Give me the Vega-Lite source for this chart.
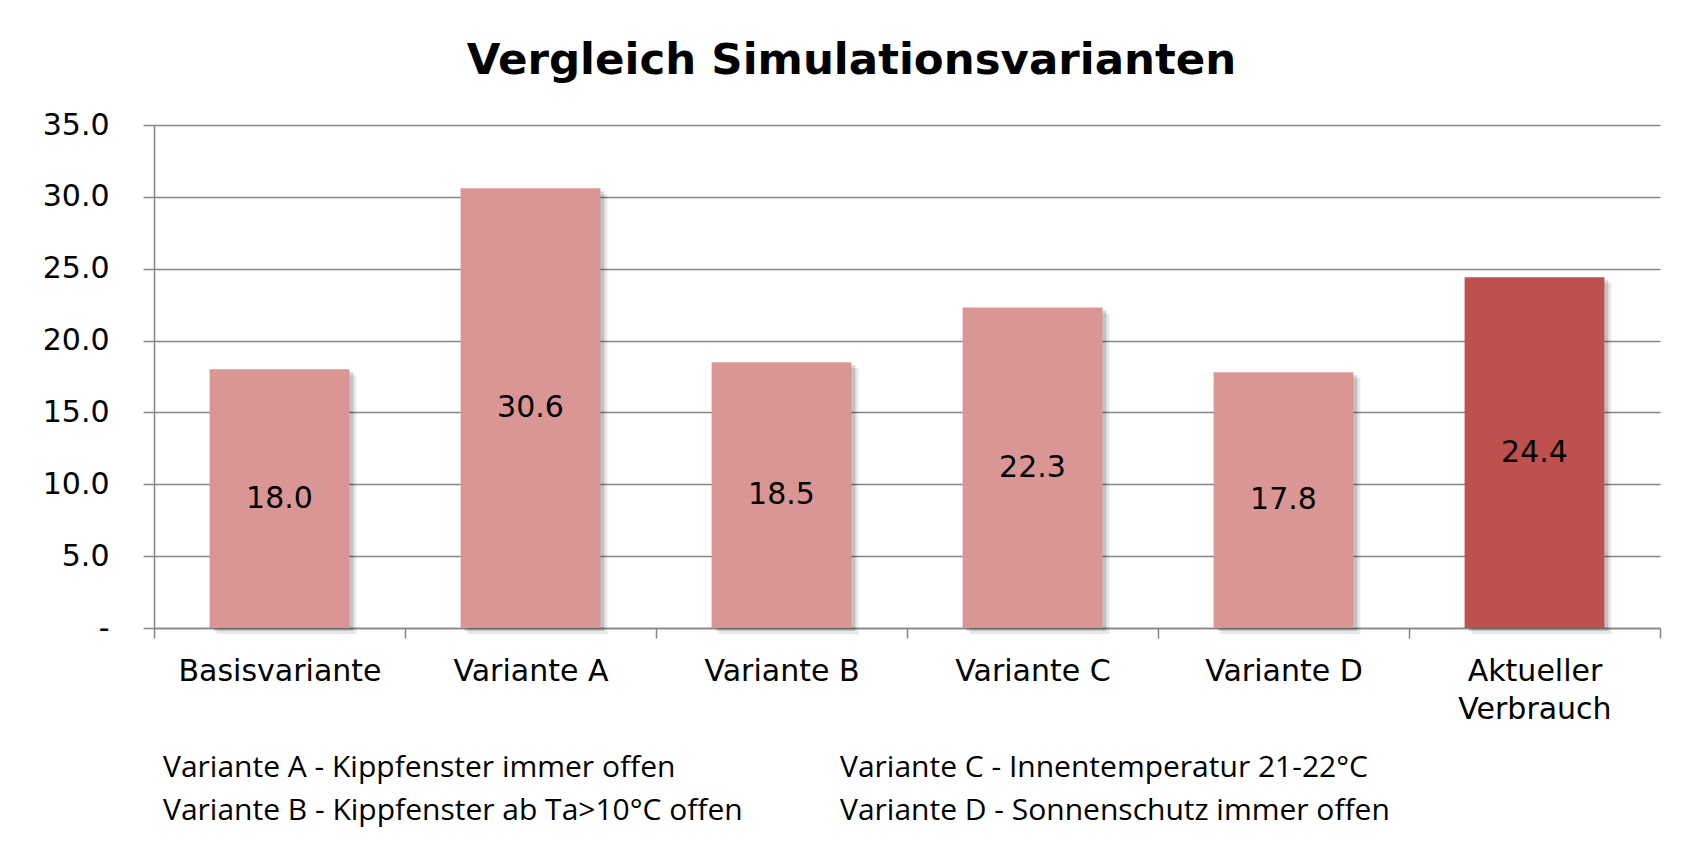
{
  "$schema": "https://vega.github.io/schema/vega-lite/v6.json",
  "background": "white",
  "padding": {"left": 42, "top": 38, "right": 30, "bottom": 20},
  "title": {"text": "Vergleich Simulationsvarianten", "font": "DejaVu Sans", "fontSize": 43.5, "fontWeight": "bold", "color": "#000000", "anchor": "middle", "offset": 27},
  "config": {"view": {"stroke": null}, "font": "DejaVu Sans"},
  "bounds": "flush",
  "spacing": 140,
  "vconcat": [
    {
      "width": 1506,
      "height": 503,
      "data": {"values": [
        {"cat": "Basisvariante", "value": 18.0, "kind": "Simulation"},
        {"cat": "Variante A", "value": 30.6, "kind": "Simulation"},
        {"cat": "Variante B", "value": 18.5, "kind": "Simulation"},
        {"cat": "Variante C", "value": 22.3, "kind": "Simulation"},
        {"cat": "Variante D", "value": 17.8, "kind": "Simulation"},
        {"cat": "Aktueller Verbrauch", "value": 24.4, "kind": "Aktuell"}
      ]},
      "encoding": {
        "x": {"field": "cat", "type": "nominal", "sort": null,
          "scale": {"paddingInner": 0, "paddingOuter": 0},
          "axis": {"title": null, "labelAngle": 0, "labelFont": "DejaVu Sans", "labelFontSize": 30, "labelColor": "#000000",
            "labelPadding": 18, "labelLineHeight": 38, "labelLimit": 0,
            "labelExpr": "datum.label == 'Aktueller Verbrauch' ? ['Aktueller', 'Verbrauch'] : datum.label",
            "tickBand": "extent", "tickSize": 10, "tickColor": "#868686", "tickWidth": 1.5,
            "domainColor": "#868686", "domainWidth": 1.5, "grid": false}}
      },
      "layer": [
        {
          "encoding": {
            "y": {"field": "value", "type": "quantitative", "scale": {"domain": [0, 35], "nice": false},
              "axis": {"title": null, "values": [0, 5, 10, 15, 20, 25, 30, 35],
                "labelExpr": "datum.value == 0 ? '-' : format(datum.value, '.1f')",
                "labelFont": "DejaVu Sans", "labelFontSize": 30, "labelColor": "#000000", "labelPadding": 34,
                "tickSize": 11, "tickColor": "#868686", "tickWidth": 1.5,
                "domainColor": "#868686", "domainWidth": 1.5,
                "grid": true, "gridColor": "#868686", "gridWidth": 1.5}}
          },
          "layer": [
            {"mark": {"type": "bar", "width": {"band": 0.557}, "color": "#000000", "opacity": 0.09, "xOffset": 7, "yOffset": 6}},
            {"mark": {"type": "bar", "width": {"band": 0.557}, "color": "#000000", "opacity": 0.16, "xOffset": 4, "yOffset": 3}},
            {
              "mark": {"type": "bar", "width": {"band": 0.557}},
              "encoding": {
                "color": {"field": "kind", "type": "nominal", "scale": {"domain": ["Simulation", "Aktuell"], "range": ["#D99694", "#C0504D"]}, "legend": null}
              }
            }
          ]
        },
        {
          "mark": {"type": "text", "font": "DejaVu Sans", "fontSize": 30, "color": "#000000", "baseline": "middle", "align": "center"},
          "encoding": {
            "y": {"field": "value", "type": "quantitative", "scale": {"domain": [0, 70], "nice": false}, "axis": null},
            "text": {"field": "value", "type": "quantitative", "format": ".1f"}
          }
        }
      ],
      "resolve": {"scale": {"y": "independent"}, "axis": {"y": "independent"}}
    },
    {
      "width": 677,
      "height": 43,
      "data": {"values": [
        {"col": "1", "row": "1", "note": "Variante A - Kippfenster immer offen"},
        {"col": "1", "row": "2", "note": "Variante B - Kippfenster ab Ta>10°C offen"},
        {"col": "2", "row": "1", "note": "Variante C - Innentemperatur 21-22°C"},
        {"col": "2", "row": "2", "note": "Variante D - Sonnenschutz immer offen"}
      ]},
      "mark": {"type": "text", "font": "Open Sans", "fontSize": 30, "color": "#000000", "align": "left", "baseline": "middle", "dx": 9},
      "encoding": {
        "x": {"field": "col", "type": "ordinal", "scale": {"type": "point", "padding": 0}, "axis": null},
        "y": {"field": "row", "type": "ordinal", "scale": {"type": "point", "padding": 0}, "axis": null},
        "text": {"field": "note", "type": "nominal"}
      }
    }
  ]
}
